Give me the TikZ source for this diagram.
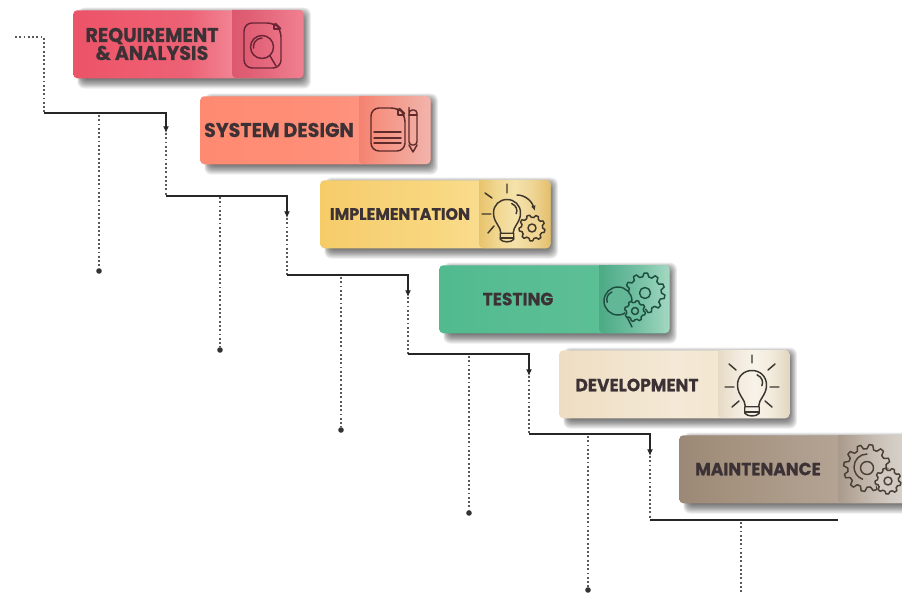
\documentclass[tikz,border=0pt]{standalone}
\usepackage{fontspec}
\setmainfont{Poppins}
\newfontfamily\cardfont{Poppins}[FakeStretch=0.96,BoldFeatures={FakeBold=0.5}]
\usetikzlibrary{arrows.meta}
\definecolor{labelink}{HTML}{3C3236}
\definecolor{iconred}{HTML}{6B2536}
\definecolor{iconsal}{HTML}{5E2A2A}
\definecolor{icongold}{HTML}{40372A}
\definecolor{icongreen}{HTML}{1F4F40}
\definecolor{iconcream}{HTML}{3A3632}
\definecolor{iconbrown}{HTML}{4A4038}
\definecolor{pgold}{HTML}{F0D595}
\definecolor{pgreen}{HTML}{62B797}
\definecolor{pgreenb}{HTML}{6EBD9E}
\definecolor{pbrown}{HTML}{D2CBC3}
\newcommand{\mkshade}[6]{\definecolor{sa}{HTML}{#2}\definecolor{sb}{HTML}{#3}\definecolor{sc}{HTML}{#4}\definecolor{sd}{HTML}{#5}\definecolor{se}{HTML}{#6}%
 \pgfdeclarehorizontalshading{#1}{100bp}{color(0bp)=(sa);color(25bp)=(sa);color(37bp)=(sb);color(50bp)=(sc);color(62bp)=(sd);color(75bp)=(se);color(100bp)=(se)}}
\mkshade{mA}{EC5468}{EE5A6E}{ED6276}{F38C9A}{EA667A}
\mkshade{pA}{DC586E}{E05F75}{E6697E}{EB7587}{EF808F}
\mkshade{mB}{FF8A72}{FF8C74}{FF8E78}{FD9480}{FB8E7C}
\mkshade{pB}{F48270}{F6907F}{F49C8E}{F2A89C}{F2B4AC}
\mkshade{mC}{F6CC68}{F7D176}{F8D77F}{F9DD92}{F7D57E}
\mkshade{pC}{E8C36C}{F0D68F}{F5E3AB}{EFD596}{E4BF6C}
\mkshade{mD}{52BA8F}{56BC92}{5ABE95}{5CBF96}{60C29A}
\mkshade{pD}{4CAA84}{5CB492}{70BE9F}{88CAAF}{A4D8C2}
\mkshade{mE}{EEDDC1}{F1E3CC}{F4E9D6}{F3E6D1}{F0E0C8}
\mkshade{pE}{E6DAC4}{F1E9DB}{F8F3E8}{F2EBDD}{E2D6C0}
\mkshade{mF}{9C8876}{A5927F}{AE9D8C}{B5A596}{AF9E8E}
\mkshade{pF}{A99A8B}{B8AB9E}{C7BDB2}{D2CBC3}{DAD4CD}
\tikzset{
 flow/.style={draw=black!85,line width=.85pt},
 flowarrow/.style={flow,-{Latex[length=5pt,width=4.4pt]}},
 flowdots/.style={draw=black!65,line width=.8pt,dash pattern=on 1.4pt off 1.8pt},
 enddot/.style={circle,fill=black!80,inner sep=0pt,minimum size=4.2pt},
 cardbox/.style={anchor=north west,inner sep=0pt,minimum width=172.5pt,minimum height=51pt,rounded corners=3pt},
 cardlabel/.style={font=\cardfont\bfseries\fontsize{13.3pt}{13.5pt}\selectfont,text=labelink,align=center},
 icon/.style={line width=1.1pt,line join=round,line cap=round,fill=none}
}
% soft shadow of a card given by left, top, right, bottom
\newcommand{\softshadow}[4]{%
 \foreach \g in {0,1,...,11}{%
  \fill[black,opacity=.075,rounded corners=5pt]
   ({#1+10-\g*.5},{#2+7-\g*.85}) rectangle ({#3-2+\g*.85},{#4-1+\g*1.05});}}
% card: name, left, top, divider, main shading, panel shading
\newcommand{\cardbox}[6]{%
 \softshadow{#2}{#3}{#2+230.5}{#3+68}
 \node[cardbox,shading=#5] (#1) at (#2,#3) {};
 \shade[shading=#6,rounded corners=3pt] (#4,#3) -- ({#2+230.5},#3) -- ({#2+230.5},{#3+68}) -- (#4,{#3+68}) [sharp corners] -- cycle;
}
% gear: cx, cy, outer radius, teeth, colour
\newcommand{\gearshape}[5]{%
 \begin{scope}[shift={(#1,#2)}]
 \pgfmathsetmacro{\gs}{360/#4}
 \pgfmathsetmacro{\gi}{#3*.82}
 \foreach \k in {1,...,#4}{%
  \pgfmathsetmacro{\ga}{\k*\gs}
  \draw[icon,draw=#5] (\ga:\gi) -- ({\ga+.18*\gs}:#3) -- ({\ga+.48*\gs}:#3) -- ({\ga+.66*\gs}:\gi) -- ({\ga+\gs}:\gi);}
 \end{scope}}
% bulb: cx, cy, radius, colour
\newcommand{\bulbshape}[4]{%
 \begin{scope}[shift={(#1,#2)},scale=#3]
 \draw[icon,draw=#4] (-.45,1.5) .. controls (-.45,1) and (-1,.7) .. (-1,0) .. controls (-1,-.6) and (-.55,-1) .. (0,-1) .. controls (.55,-1) and (1,-.6) .. (1,0) .. controls (1,.7) and (.45,1) .. (.45,1.5) -- cycle;
 \draw[icon,draw=#4] (-.5,1.5) -- (-.5,1.95) .. controls (-.3,2.2) and (.3,2.2) .. (.5,1.95) -- (.5,1.5);
 \draw[icon,draw=#4] (-.5,1.85) -- (.5,1.85);
 \draw[icon,draw=#4] (.35,-.7) .. controls (.7,-.55) and (.8,-.2) .. (.68,.05);
 \end{scope}}
\begin{document}
\begin{tikzpicture}[x=.75pt,y=-.75pt]
\useasboundingbox (0,0) rectangle (902,595);
% cards
\cardbox{c1}{73}{10}{232}{mA}{pA}
\cardbox{c2}{200}{96}{359}{mB}{pB}
\cardbox{c3}{320}{180}{479}{mC}{pC}
\cardbox{c4}{439}{265}{599}{mD}{pD}
\cardbox{c5}{559}{350}{718}{mE}{pE}
\cardbox{c6}{679}{435}{838}{mF}{pF}
% labels
\node[cardlabel,font=\cardfont\bfseries\fontsize{14.9pt}{13.5pt}\selectfont] (t1) at (152,44) {REQUIREMENT\\\& ANALYSIS};
\node[cardlabel,font=\cardfont\bfseries\fontsize{14.9pt}{13.5pt}\selectfont] (t2) at (279,130) {SYSTEM DESIGN};
\node[cardlabel,font=\cardfont\bfseries\fontsize{12.4pt}{13.5pt}\selectfont] (t3) at (400,214) {IMPLEMENTATION};
\node[cardlabel] (t4) at (518,299) {TESTING};
\node[cardlabel] (t5) at (637,385) {DEVELOPMENT};
\node[cardlabel] (t6) at (758,469) {MAINTENANCE};
% flow coordinates
\coordinate (s0) at (15,37);
\coordinate (k0) at (44,37);
\coordinate (k1) at (44,113);
\foreach \n/\x/\y/\xb/\yb/\ye in {a/44/113/166/133/196,b/166/196/287/218/275,c/287/275/408/297/354,d/408/354/529/376/434,e/529/434/650/456/520}{
 \coordinate (\n0) at (\x,\y);
 \coordinate (\n1) at (\xb,\y);
 \coordinate (\n2) at (\xb,\yb);
 \coordinate (\n3) at (\xb,\ye);
}
\coordinate (f1) at (838,520);
\draw[flowdots] (s0) -- (k0) -- (k1);
\foreach \n in {a,b,c,d,e}{
 \draw[flowarrow] (\n0) -- (\n1) -- (\n2);
 \draw[flowdots] (\n2) -- (\n3);
}
\draw[flow] (e3) -- (f1);
% hanging dotted lines
\foreach \m/\x/\ya/\yb in {h1/99/115/271,h2/220/197/350,h3/341/277/430,h4/469/356/513,h5/588/436/590}{
 \coordinate (\m a) at (\x,\ya);
 \node[enddot] (\m b) at (\x,\yb) {};
 \draw[flowdots] (\m a) -- (\m b);
}
\coordinate (h6a) at (741,522);
\coordinate (h6b) at (741,595);
\draw[flowdots] (h6a) -- (h6b);
% icon 1
\begin{scope}[every path/.style={icon,draw=iconred}]
 \draw[rounded corners=6pt] (244,23) -- (275,23) -- (281,29) -- (281,68) -- (244,68) -- cycle;
 \draw (262,47) circle (11.5);
 \draw (262,38) arc (-90:-190:8.5);
 \draw (270,56) -- (276,66);
 \draw (274,24) -- (274,29) -- (280,29);
\end{scope}
% icon 2
\begin{scope}[every path/.style={icon,draw=iconsal}]
 \draw[rounded corners=6pt] (371,108) -- (399,108) -- (405,114) -- (405,151) -- (371,151) -- cycle;
 \draw (398,109) -- (398,115) -- (404,115);
 \draw (374,132) -- (401,132) (374,138) -- (401,138) (374,143) -- (401,143);
 \draw[rounded corners=2.5pt] (409,111) -- (409,110) -- (417,110) -- (417,145) -- (409,145) -- cycle;
 \draw (409,145) -- (413,152) -- (417,145);
 \draw (409,115) -- (417,115);
\end{scope}
% icon 3
\bulbshape{507}{213}{13.5}{icongold}
\fill[pgold] (532,228) circle (12);
\gearshape{532}{228}{13}{9}{icongold}
\draw[icon,draw=icongold] (532,228) circle (4);
\draw[icon,draw=icongold,-{Latex[length=4pt,width=3.5pt]}] (517,195) .. controls (526,195) and (532,202) .. (535,211);
\draw[icon,draw=icongold] (507,184) -- (507,193) (482,214) -- (491,214) (485,193) -- (492,198) (488,233) -- (494,226);
% icon 4
\gearshape{645}{293}{20}{11}{icongreen}
\draw[icon,draw=icongreen] (645,293) circle (5.5);
\fill[pgreen] (618,301) circle (14);
\draw[icon,draw=icongreen] (618,301) circle (14);
\draw[icon,draw=icongreen] (612,292) arc (-110:-200:8);
\fill[pgreenb] (635,311) circle (10);
\gearshape{635}{311}{10.5}{8}{icongreen}
\draw[icon,draw=icongreen] (635,311) circle (3.5) (627,317) -- (632,327);
% icon 5
\bulbshape{752}{385}{14.5}{iconcream}
\draw[icon,draw=iconcream] (752,355) -- (752,363) (725,387) -- (734,387) (770,387) -- (779,387) (729,364) -- (736,370) (775,364) -- (768,370) (732,407) -- (739,401) (772,407) -- (765,401);
% icon 6
\gearshape{867}{468}{23.5}{12}{iconbrown}
\draw[icon,draw=iconbrown] (867,468) circle (6.5);
\draw[icon,draw=iconbrown] (867,454) arc (-90:-250:13);
\fill[pbrown] (888,481) circle (12.5);
\gearshape{888}{481}{13}{9}{iconbrown}
\draw[icon,draw=iconbrown] (888,481) circle (4);
\end{tikzpicture}
\end{document}
